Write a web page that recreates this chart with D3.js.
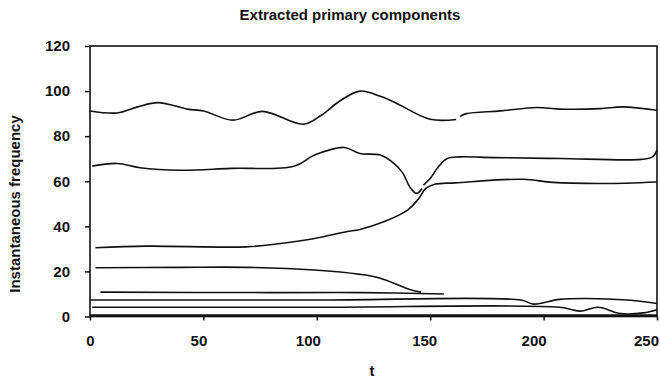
<!DOCTYPE html>
<html>
<head>
<meta charset="utf-8">
<script src="https://cdn.jsdelivr.net/npm/d3@7"></script>
<style>
    body { margin: 0; background: #fff; }
    svg { display: block; }
</style>
</head>
<body>
<div id="chart"></div>
<script>

/*************************************************** chart data ***************************************************/

// time samples (t) and instantaneous frequency of each extracted component, null breaks the trace
var tA = [0, 12, 21, 30, 43, 50, 63, 76, 94, 102, 110, 119, 128, 134, 150, 161.5, 162, 163.2, 166, 181, 197, 207, 225, 235, 250];
var fA = [91.2, 90.3, 93, 94.9, 92, 91.2, 87.1, 91, 85.3, 89.3, 95.5, 100, 97.7, 95.2, 87.5, 87.4, null, 88.8, 90, 91.2, 92.7, 92, 92.2, 93, 91.5];

var tB = [1, 12, 22, 40, 62, 90, 99, 112, 119, 128, 134, 138, 141, 144, 146.4, 146.7, 147, 150, 153.6, 157.5, 163, 178, 207, 243, 248, 250];
var fB = [66.7, 67.9, 66, 64.9, 65.7, 66.7, 71.6, 75, 72.3, 71.6, 67.9, 63.5, 57.5, 54.6, 56.8, null, 58.3, 61.2, 66.4, 70.1, 70.8, 70.5, 70.1, 69.7, 70.8, 73.8];

var tC = [2.4, 25, 69, 84, 99, 113, 119, 129.5, 140, 145, 148, 152, 161, 191, 204, 226.5, 250];
var fC = [30.5, 31.2, 30.9, 32.4, 34.6, 37.6, 38.6, 42, 47.2, 52.4, 56.8, 58.7, 59.3, 60.9, 59.5, 59, 59.7];

var tD = [2.4, 40, 69, 99, 119, 128, 141, 146];
var fD = [21.6, 21.8, 21.8, 20.6, 18.7, 17, 12, 10.8];

var tE = [4.6, 80, 120, 156];
var fE = [10.8, 10.6, 10.6, 10];

var tF = [0, 100, 190, 195.6, 207, 219, 237, 250];
var fF = [7.3, 7.3, 7.3, 5.5, 7.6, 8, 7.3, 5.8];

var tG = [1, 100, 207, 216, 224, 234, 244, 250];
var fG = [4.1, 4.1, 4.1, 2.4, 4.1, 1.3, 1.6, 3];

var tH = [0, 125, 250];
var fH = [0.6, 0.6, 0.6];

var xTicks = [0, 50, 100, 150, 200, 250];
var yTicks = [0, 20, 40, 60, 80, 100, 120];

var components = [[tA, fA], [tB, fB], [tC, fC], [tD, fD], [tE, fE], [tF, fF], [tG, fG], [tH, fH]];

/*************************************************** drawing ***************************************************/

//Width and height
var W = 660;
var H = 382;
var margin = {top: 46, right: 3, bottom: 65.5, left: 90};
var w = W - margin.left - margin.right;
var h = H - margin.top - margin.bottom;

var FONT = "'Liberation Sans', Arial, Helvetica, sans-serif";

var svg = d3.select("#chart")
    .append("svg")
    .attr("width", W)
    .attr("height", H);

var xScale = d3.scaleLinear().domain([0, 250]).range([0, w]);
var yScale = d3.scaleLinear().domain([0, 120]).range([h, 0]);

var plot = svg.append("g")
    .attr("transform", "translate(" + margin.left + "," + margin.top + ")");

//axes
var xAxis = d3.axisBottom(xScale)
    .tickValues(xTicks)
    .tickSize(4)
    .tickSizeOuter(0)
    .tickPadding(14.5);

var yAxis = d3.axisLeft(yScale)
    .tickValues(yTicks)
    .tickSize(5)
    .tickSizeOuter(0)
    .tickPadding(15);

// the printed tick labels sit a little left of their ticks
var xLabelNudge = {0: 0, 50: -5, 100: -9, 150: -6, 200: -10, 250: -11};

var gx = plot.append("g")
    .attr("transform", "translate(0," + h + ")")
    .call(xAxis);

var gy = plot.append("g")
    .call(yAxis);

[gx, gy].forEach(function (g) {
    g.select(".domain").remove();
    g.selectAll(".tick line").attr("stroke", "#111").attr("stroke-width", 1.5);
    g.selectAll(".tick text")
        .attr("fill", "#111")
        .style("font-family", FONT)
        .style("font-size", "15px")
        .style("font-weight", "bold");
});

gx.selectAll(".tick text")
    .attr("dx", function (d) { return xLabelNudge[d] || 0; });

//frame round the plot
plot.append("rect")
    .attr("x", 0)
    .attr("y", 0)
    .attr("width", w)
    .attr("height", h)
    .attr("fill", "none")
    .attr("stroke", "#111")
    .attr("stroke-width", 1.6);

//component traces
var line = d3.line()
    .defined(function (d) { return d[1] !== null; })
    .x(function (d) { return xScale(d[0]); })
    .y(function (d) { return yScale(d[1]); })
    .curve(d3.curveCatmullRom.alpha(0.5));

plot.selectAll(".component")
    .data(components.map(function (c) {
        return c[0].map(function (t, i) { return [t, c[1][i]]; });
    }))
    .enter()
    .append("path")
    .attr("class", "component")
    .attr("d", line)
    .attr("fill", "none")
    .attr("stroke", "#111")
    .attr("stroke-width", 1.6)
    .attr("stroke-linejoin", "round");

//titles
svg.append("text")
    .text("Extracted primary components")
    .attr("x", 350)
    .attr("y", 20)
    .attr("fill", "#111")
    .style("font-family", FONT)
    .style("font-size", "15px")
    .style("font-weight", "bold")
    .style("text-anchor", "middle");

svg.append("text")
    .text("Instantaneous frequency")
    .attr("transform", "translate(20,204) rotate(-90)")
    .attr("fill", "#111")
    .style("font-family", FONT)
    .style("font-size", "15px")
    .style("font-weight", "bold")
    .style("text-anchor", "middle");

svg.append("text")
    .text("t")
    .attr("x", 372)
    .attr("y", 376)
    .attr("fill", "#111")
    .style("font-family", FONT)
    .style("font-size", "15px")
    .style("font-weight", "bold")
    .style("text-anchor", "middle");

</script>
</body>
</html>
